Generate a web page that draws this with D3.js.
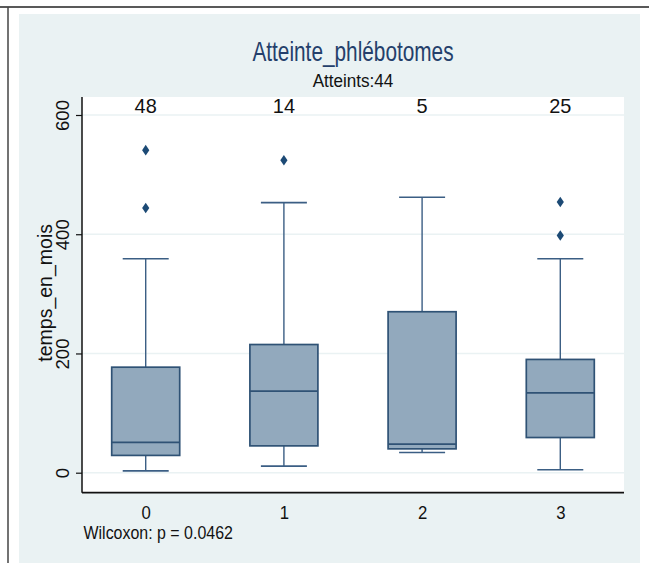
<!DOCTYPE html>
<html>
<head>
<meta charset="utf-8">
<script src="https://cdn.jsdelivr.net/npm/d3@7"></script>
<style>
html,body{margin:0;padding:0;background:#fff;}
svg{display:block;}
</style>
</head>
<body>
<svg id="chart" width="649" height="563"></svg>
<script>
// ---- data ----
const categories = ["0", "1", "2", "3"];
const counts = [48, 14, 5, 25];
const whiskerLow = [3, 11, 34, 5];
const q1 = [29, 45, 40, 59];
const median = [51, 137, 48, 134];
const q3 = [177, 215, 270, 190];
const whiskerHigh = [359, 453, 462, 359];
const outliers = [[444, 541], [524], [], [398, 454]];
const yTicks = [0, 200, 400, 600];
const titleText = "Atteinte_phlébotomes";
const subtitleText = "Atteints:44";
const yTitle = "temps_en_mois";
const noteText = "Wilcoxon: p = 0.0462";

// ---- layout ----
const W = 649, H = 563;
const plot = {left: 82, right: 624, top: 97, bottom: 492.7};
const svg = d3.select("#chart");
const NARROW = "'Liberation Sans', Arial, sans-serif";

// frame + background panel
svg.append("rect").attr("x", 19).attr("y", 14).attr("width", 621).attr("height", H - 14).attr("fill", "#eaf2f3");
svg.append("line").attr("x1", 0).attr("x2", W).attr("y1", 7).attr("y2", 7).attr("stroke", "#222").attr("stroke-width", 1.5);
svg.append("line").attr("x1", 8).attr("x2", 8).attr("y1", 7).attr("y2", H).attr("stroke", "#444").attr("stroke-width", 1.5);

// plot region
svg.append("rect").attr("x", plot.left).attr("y", plot.top)
  .attr("width", plot.right - plot.left).attr("height", plot.bottom - plot.top).attr("fill", "#ffffff");

const x = d3.scalePoint().domain(categories).range([plot.left, plot.right]).padding(0.461);
const y = d3.scaleLinear().domain([0, 600]).range([472.7, 115]);

// grid
svg.append("g").selectAll("line").data(yTicks).join("line")
  .attr("x1", plot.left).attr("x2", plot.right)
  .attr("y1", d => y(d)).attr("y2", d => y(d))
  .attr("stroke", "#eaf2f3").attr("stroke-width", 1.5);

// helper for condensed text
function ctext(g, txt, cx, cy, size, sx, fill, anchor) {
  const t = g.append("g").attr("transform", `translate(${cx},${cy}) scale(${sx},1)`)
    .append("text").attr("text-anchor", anchor || "middle")
    .attr("font-family", NARROW).attr("font-size", size).attr("fill", fill).text(txt);
  return t;
}

// title & subtitle
const cxPlot = (plot.left + plot.right) / 2;
ctext(svg, titleText, cxPlot, 60.5, 28.5, 0.73, "#243f6b");
ctext(svg, subtitleText, cxPlot, 86.5, 19, 0.9, "#111");

// y axis
const yAxis = d3.axisLeft(y).tickValues(yTicks).tickSize(6).tickFormat(d3.format("d"));
const gy = svg.append("g").attr("transform", `translate(${plot.left},0)`).call(yAxis);
gy.select(".domain").remove();
gy.selectAll(".tick line").attr("stroke", "#111").attr("stroke-width", 1.2);
gy.selectAll(".tick text")
  .attr("font-family", "'Liberation Sans', Arial, sans-serif").attr("font-size", 18.6).attr("fill", "#111")
  .attr("text-anchor", "middle").attr("dy", 0)
  .attr("x", 0).attr("y", 0)
  .attr("transform", "translate(-13.5,0) rotate(-90)");
svg.append("line").attr("x1", plot.left).attr("x2", plot.left).attr("y1", plot.top).attr("y2", plot.bottom)
  .attr("stroke", "#111").attr("stroke-width", 1.5);

svg.append("text").attr("transform", `translate(51.5,${(plot.top + plot.bottom) / 2 - 2}) rotate(-90)`)
  .attr("text-anchor", "middle").attr("font-family", "'Liberation Sans', Arial, sans-serif")
  .attr("font-size", 19.5).attr("fill", "#111").text(yTitle);

// x axis
const xAxis = d3.axisBottom(x).tickSize(0).tickPadding(0);
const gx = svg.append("g").attr("transform", `translate(0,${plot.bottom})`).call(xAxis);
gx.select(".domain").remove();
gx.selectAll(".tick text").remove();
gx.selectAll(".tick").each(function(d) {
  ctext(d3.select(this), d, 0, 26.6, 18.6, 0.9, "#111");
});
svg.append("line").attr("x1", plot.left).attr("x2", plot.right).attr("y1", plot.bottom).attr("y2", plot.bottom)
  .attr("stroke", "#111").attr("stroke-width", 1.8);

// count labels
categories.forEach((c, i) => {
  ctext(svg, String(counts[i]), x(c), 113.3, 21, 0.95, "#111");
});

// boxes
const boxW = 68, capW = 46;
const stroke = "#2f5275", wcol = "#3b5e84";
const gb = svg.append("g");
categories.forEach((c, i) => {
  const cx = x(c);
  const g = gb.append("g");
  // whiskers
  g.append("line").attr("x1", cx).attr("x2", cx).attr("y1", y(q3[i])).attr("y2", y(whiskerHigh[i]))
    .attr("stroke", wcol).attr("stroke-width", 1.4);
  g.append("line").attr("x1", cx).attr("x2", cx).attr("y1", y(q1[i])).attr("y2", y(whiskerLow[i]))
    .attr("stroke", wcol).attr("stroke-width", 1.4);
  g.append("line").attr("x1", cx - capW / 2).attr("x2", cx + capW / 2).attr("y1", y(whiskerHigh[i])).attr("y2", y(whiskerHigh[i]))
    .attr("stroke", wcol).attr("stroke-width", 1.6);
  g.append("line").attr("x1", cx - capW / 2).attr("x2", cx + capW / 2).attr("y1", y(whiskerLow[i])).attr("y2", y(whiskerLow[i]))
    .attr("stroke", wcol).attr("stroke-width", 1.6);
  // box
  g.append("rect").attr("x", cx - boxW / 2).attr("y", y(q3[i]))
    .attr("width", boxW).attr("height", y(q1[i]) - y(q3[i]))
    .attr("fill", "#92a9bd").attr("stroke", stroke).attr("stroke-width", 1.7);
  g.append("line").attr("x1", cx - boxW / 2).attr("x2", cx + boxW / 2).attr("y1", y(median[i])).attr("y2", y(median[i]))
    .attr("stroke", stroke).attr("stroke-width", 1.7);
  // outliers
  g.selectAll("path.o").data(outliers[i]).join("path").attr("class", "o")
    .attr("d", "M0,-5.3L3.6,0L0,5.3L-3.6,0Z")
    .attr("transform", d => `translate(${cx},${y(d)})`)
    .attr("fill", "#1c4a75");
});

// note
ctext(svg, noteText, 83.5, 539.3, 19, 0.84, "#111", "start");
</script>
</body>
</html>
